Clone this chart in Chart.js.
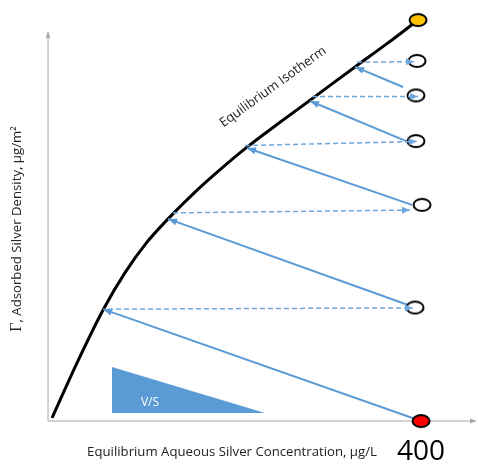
<!DOCTYPE html>
<html>
<head>
<meta charset="utf-8">
<script src="https://cdn.jsdelivr.net/npm/chart.js@4.4.0/dist/chart.umd.min.js"></script>
<style>
  html, body { margin: 0; padding: 0; background: #fff; }
  #wrap { width: 478px; height: 464px; }
</style>
</head>
<body>
<div id="wrap"><canvas id="chart" width="478" height="464"></canvas></div>
<script>
// equilibrium isotherm: aqueous conc (ug/L) vs adsorbed density (relative units)
const isoX = [4.3, 31.1, 59, 82.6, 105.1, 128.7, 157.6, 184.5, 213.4, 248.8, 281, 329.2, 363.5, 396.8];
const isoY = [0.75, 14.5, 27.7, 37, 44.3, 50.4, 57.1, 62.7, 68.3, 74.5, 80, 88.3, 94.1, 100];

// sample points (open circles), start point (red) and end point (yellow)
const sampleX = [395.7, 394.6, 394.6, 401.1, 393.6];
const sampleY = [89.8, 81.2, 69.8, 53.9, 28.3];
const startX = [400], startY = [0];
const endX = [396.8], endY = [100];

// solid arrows: sample -> isotherm
const solidFromX = [400, 393.6, 390.3, 386.1, 380.7];
const solidFromY = [0, 28.3, 53.9, 69.6, 83.3];
const solidToX = [59, 128.7, 213.4, 281, 329.2];
const solidToY = [27.9, 50.4, 68.1, 79.8, 88.3];

// dashed arrows: isotherm -> next sample
const dashFromX = [64.3, 134, 211.3, 283.1, 331.4];
const dashFromY = [27.9, 51.9, 68.7, 80.9, 89.5];
const dashToX = [391.4, 388.2, 395.4, 396.8, 392.5];
const dashToY = [28.2, 52.6, 69.7, 80.9, 89.6];

// V/S wedge
const wedgeX = [68.6, 232.7];
const wedgeY = [13.5, 2];
const wedgeBase = 2;

// axes extent
const axisEndX = 459;
const axisEndY = 97;
const tickValue = 400;

const BLUE = '#5B9BD5';
const DASH = '#6FA8DC';

function ellipse(fill) {
  const c = document.createElement('canvas');
  c.width = 24; c.height = 18;
  const g = c.getContext('2d');
  g.beginPath();
  g.ellipse(12, 9, 8.5, 6, 0, 0, Math.PI * 2);
  g.fillStyle = fill; g.fill();
  g.lineWidth = 2; g.strokeStyle = '#000'; g.stroke();
  return c;
}

function pts(xs, ys) { return xs.map((v, i) => ({ x: v, y: ys[i] })); }

function arrow(x0, y0, x1, y1, color, width, dash, head, order) {
  return {
    data: [{ x: x0, y: y0 }, { x: x1, y: y1 }],
    borderColor: color, borderWidth: width, borderDash: dash || [],
    pointRadius: 0, showLine: true, fill: false, tension: 0,
    head: head, order: order
  };
}

const datasets = [];

// axes
datasets.push(arrow(0, 0, axisEndX, 0, '#A6A6A6', 1, null, [6, 5], 9));
datasets.push(arrow(0, 0, 0, axisEndY, '#A6A6A6', 1, null, [6, 5], 9));

// wedge
datasets.push({
  data: pts(wedgeX, wedgeY), borderWidth: 0, borderColor: BLUE,
  backgroundColor: BLUE, fill: { value: wedgeBase }, pointRadius: 0,
  showLine: true, tension: 0, order: 8
});

// isotherm
datasets.push({
  data: pts(isoX, isoY), borderColor: '#000', borderWidth: 3,
  pointRadius: 0, showLine: true, fill: false,
  cubicInterpolationMode: 'monotone', order: 7
});

// solid arrows
solidFromX.forEach((v, i) => {
  datasets.push(arrow(v, solidFromY[i], solidToX[i], solidToY[i], BLUE, 2, null, [9, 7], 6));
});

// circles
datasets.push({
  data: pts(sampleX, sampleY), pointStyle: ellipse('#fff'), showLine: false, order: 4
});
datasets.push({
  data: pts(startX, startY), pointStyle: ellipse('#FF0000'), showLine: false, order: 4
});
datasets.push({
  data: pts(endX, endY), pointStyle: ellipse('#FFC000'), showLine: false, order: 4
});

// dashed arrows
dashFromX.forEach((v, i) => {
  datasets.push(arrow(v, dashFromY[i], dashToX[i], dashToY[i], DASH, 1.5, [5, 3], [8, 7], 2));
});

const arrowHeads = {
  id: 'arrowHeads',
  afterDatasetDraw(chart, args) {
    const ds = chart.data.datasets[args.index];
    if (!ds.head) return;
    const p = args.meta.data;
    const a = p[p.length - 2], b = p[p.length - 1];
    const ang = Math.atan2(b.y - a.y, b.x - a.x);
    const ctx = chart.ctx;
    ctx.save();
    ctx.translate(b.x, b.y);
    ctx.rotate(ang);
    ctx.beginPath();
    ctx.moveTo(0, 0);
    ctx.lineTo(-ds.head[0], ds.head[1] / 2);
    ctx.lineTo(-ds.head[0], -ds.head[1] / 2);
    ctx.closePath();
    ctx.fillStyle = ds.borderColor;
    ctx.fill();
    ctx.restore();
  }
};

const labels = {
  id: 'labels',
  afterDraw(chart) {
    const { ctx, scales: { x, y } } = chart;
    ctx.save();
    ctx.textBaseline = 'middle';
    ctx.textAlign = 'center';

    ctx.font = '13.2px "Open Sans"';
    ctx.fillStyle = '#222';
    ctx.fillText('Equilibrium Aqueous Silver Concentration, μg/L', 232, 452);

    ctx.fillStyle = '#000';
    ctx.font = '28px "Open Sans"';
    ctx.fillText(String(tickValue), x.getPixelForValue(tickValue), 452);

    // V/S
    ctx.fillStyle = '#fff';
    ctx.font = '12px "Open Sans"';
    ctx.fillText('V/S', 150, 403);

    // isotherm label
    ctx.save();
    ctx.fillStyle = '#222';
    ctx.translate(273, 87);
    ctx.rotate(-36 * Math.PI / 180);
    ctx.font = '13px "Open Sans"';
    ctx.fillText('Equilibrium Isotherm', 0, 0);
    ctx.restore();

    // y title
    ctx.save();
    ctx.translate(17, 229);
    ctx.rotate(-Math.PI / 2);
    ctx.fillStyle = '#222';
    ctx.textAlign = 'left';
    const g = 'Γ';
    const rest = ', Adsorbed Silver Density, μg/m²';
    ctx.font = '16px "Liberation Serif"';
    const w1 = ctx.measureText(g).width;
    ctx.font = '13.2px "Open Sans"';
    const w2 = ctx.measureText(rest).width;
    const s = -(w1 + w2) / 2;
    ctx.font = '16px "Liberation Serif"';
    ctx.fillText(g, s, 0);
    ctx.font = '13.2px "Open Sans"';
    ctx.fillText(rest, s + w1, 0);
    ctx.restore();

    ctx.restore();
  }
};

new Chart(document.getElementById('chart'), {
  type: 'line',
  data: { datasets: datasets },
  options: {
    responsive: false,
    animation: false,
    layout: { padding: 0, autoPadding: false },
    scales: {
      x: { type: 'linear', min: -51.5, max: 461.1, display: false },
      y: { type: 'linear', min: -10.72, max: 104.99, display: false }
    },
    plugins: { legend: { display: false }, tooltip: { enabled: false } },
    elements: { point: { radius: 6 } }
  },
  plugins: [arrowHeads, labels]
});
</script>
</body>
</html>
